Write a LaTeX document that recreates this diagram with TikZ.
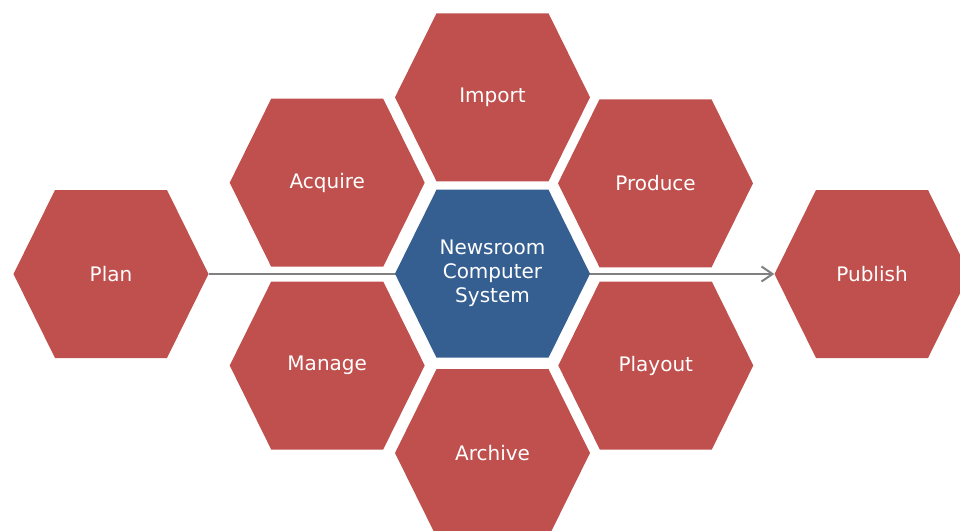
\documentclass[tikz,border=0pt]{standalone}
\usepackage{fontspec}
\setmainfont{DejaVu Sans}
\usetikzlibrary{arrows.meta,backgrounds}
\definecolor{hexred}{HTML}{C0504D}
\definecolor{hexblue}{HTML}{365F91}
\definecolor{linegray}{HTML}{808080}
\tikzset{
  hexa/.style={minimum width=195pt, minimum height=168pt, inner sep=0pt,
    text=white, align=center, font=\fontsize{20}{24}\selectfont,
    path picture={\fill[#1]
      (path picture bounding box.west)
      -- ([xshift=41.5pt]path picture bounding box.north west)
      -- ([xshift=-41.5pt]path picture bounding box.north east)
      -- (path picture bounding box.east)
      -- ([xshift=-41.5pt]path picture bounding box.south east)
      -- ([xshift=41.5pt]path picture bounding box.south west)
      -- cycle;}},
  flow/.style={draw=linegray, line width=2pt,
    -{Straight Barb[length=11pt,width=15pt,line width=2pt]}}
}
\begin{document}
\begin{tikzpicture}[x=1pt,y=-1pt]
\useasboundingbox (0,0) rectangle (960,530);
\node[hexa=hexred] (plan) at (111,274) {Plan};
\node[hexa=hexred] (publish) at (872,274) {Publish};
\node[hexa=hexblue] (ncs) at (492.5,273.7) {Newsroom\\Computer\\System};
\node[hexa=hexred] (import) at (492.5,97.3) {Import};
\node[hexa=hexred] (archive) at (492.5,453) {Archive};
\node[hexa=hexred] (acquire) at (327.2,182.7) {Acquire};
\node[hexa=hexred] (produce) at (655.5,183.3) {Produce};
\node[hexa=hexred] (manage) at (327.2,365.5) {Manage};
\node[hexa=hexred] (playout) at (655.8,365.5) {Playout};
\begin{scope}[on background layer]
\draw[flow] (plan.east) -- (publish.west);
\end{scope}
\end{tikzpicture}
\end{document}
